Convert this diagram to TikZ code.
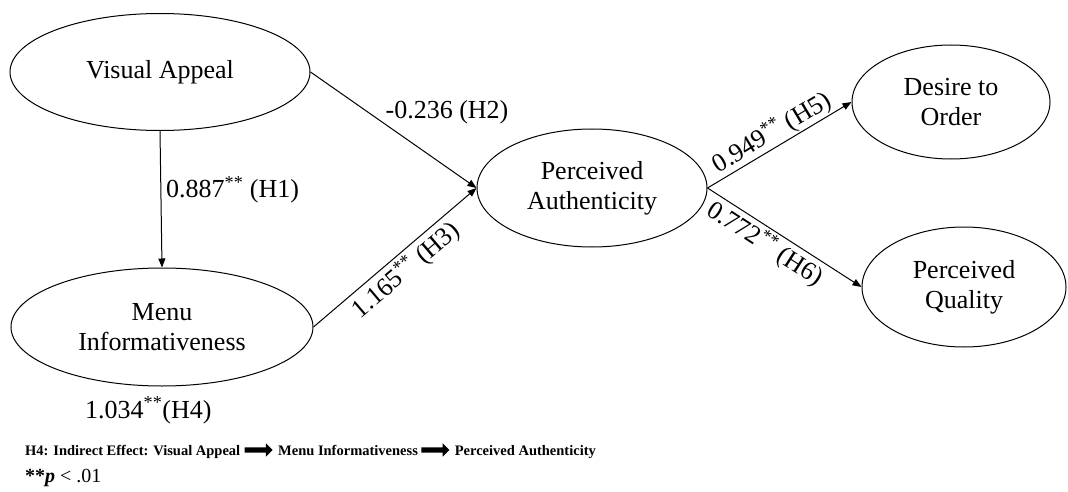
\documentclass[tikz,border=0pt]{standalone}
\usepackage{fontspec}
\setmainfont{Liberation Serif}
\usetikzlibrary{shapes.geometric,shapes.arrows,arrows.meta}
\begin{document}
\begin{tikzpicture}[x=1pt,y=-1pt,
  construct/.style={ellipse,draw,line width=1pt,inner sep=0pt,align=center,font=\fontsize{26}{30}\selectfont},
  pathline/.style={line width=1pt,-{Triangle[length=9pt,width=7pt]}},
  coef/.style={font=\fontsize{26}{30}\selectfont,inner sep=2pt},
  legend/.style={font=\bfseries\fontsize{14.5}{17}\selectfont,anchor=base west,inner sep=0pt},
  bigarrow/.style={single arrow,fill=black,draw=none,inner sep=2.5pt,minimum height=28pt,single arrow head extend=4pt,anchor=west}
]
\useasboundingbox (0,0) rectangle (1068,492);
\node[construct,minimum width=300pt,minimum height=117pt] (va) at (160,72) {Visual Appeal};
\node[construct,minimum width=302pt,minimum height=118pt] (mi) at (162,327) {Menu\\Informativeness};
\node[construct,minimum width=230pt,minimum height=118pt] (pa) at (592,188) {Perceived\\Authenticity};
\node[construct,minimum width=198pt,minimum height=114pt] (do) at (951,102) {Desire to\\Order};
\node[construct,minimum width=204pt,minimum height=120pt] (pq) at (964,287) {Perceived\\Quality};

\draw[pathline] (va.south) -- (mi.north);
\node[coef,anchor=west] (h1) at (164,190) {0.887\textsuperscript{**} (H1)};
\draw[pathline] (va.east) -- (pa.west);
\node[coef] (h2) at (447,112) {-0.236 (H2)};
\draw[pathline] (mi.east) -- node[coef,sloped,below,pos=0.5,inner sep=3pt] (h3) {1.165\textsuperscript{**} (H3)} (pa.west);
\draw[pathline] (pa.east) -- node[coef,sloped,above,pos=0.5,inner sep=1pt] (h5) {0.949\textsuperscript{**} (H5)} (do.west);
\draw[pathline] (pa.east) -- node[coef,sloped,below,pos=0.43,inner sep=2pt] (h6) {0.772\textsuperscript{**} (H6)} (pq.west);
\node[coef,anchor=base west,inner sep=0pt] (h4) at (85,418) {1.034\textsuperscript{**}(H4)};

\node[legend] (l1) at (25,455) {H4: Indirect Effect: Visual Appeal};
\node[bigarrow] (a1) at ([xshift=4pt,yshift=5pt]l1.base east) {};
\node[legend,xshift=5pt] (l2) at (a1.east |- l1.base) {Menu Informativeness};
\node[bigarrow] (a2) at ([xshift=3pt,yshift=5pt]l2.base east) {};
\node[legend,xshift=5pt] (l3) at (a2.east |- l1.base) {Perceived Authenticity};
\node[font=\fontsize{20}{22}\selectfont,anchor=base west,inner sep=0pt] (pv) at (25,482) {\textbf{**\textit{p}} < .01};
\end{tikzpicture}
\end{document}
